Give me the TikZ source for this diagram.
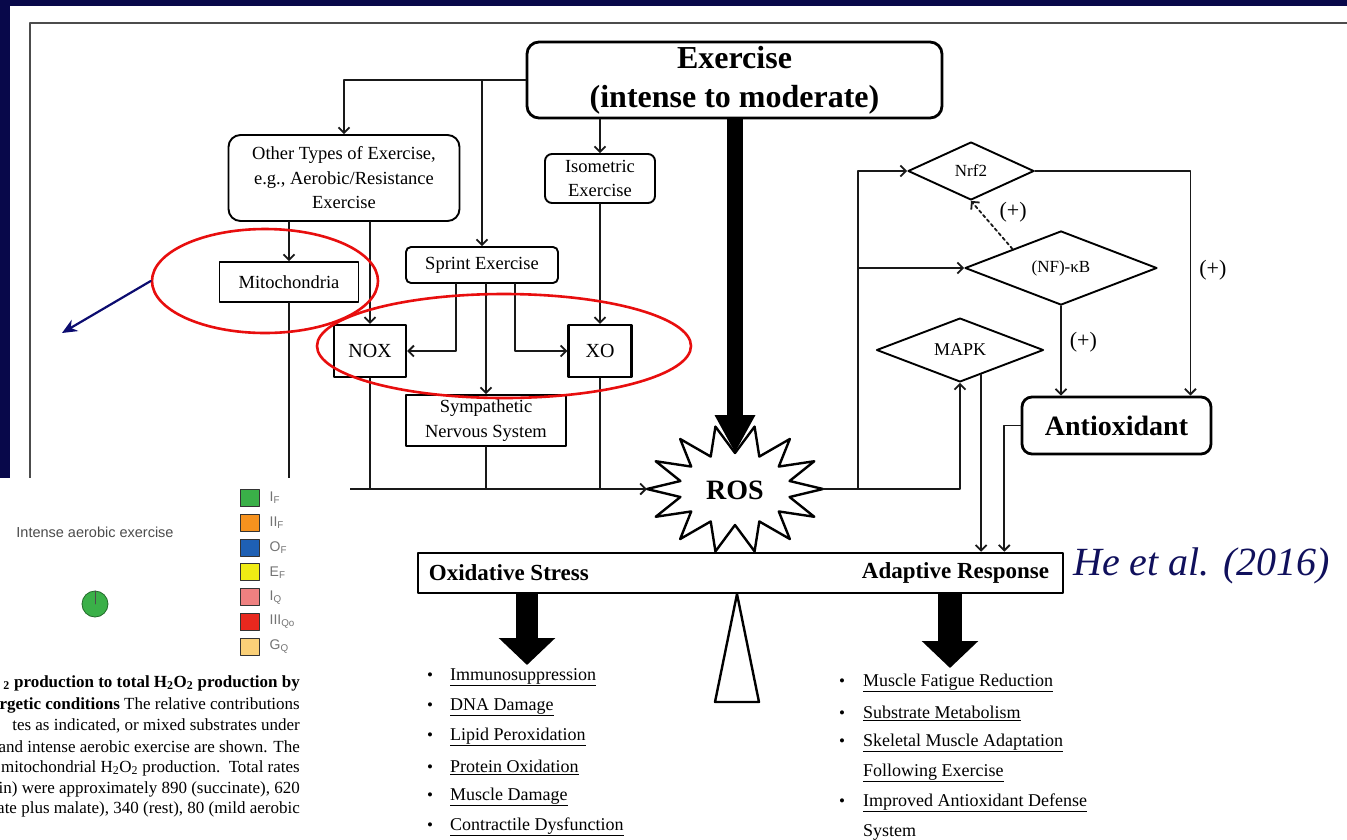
\documentclass[tikz,border=0pt]{standalone}
\usepackage{fontspec}
\setmainfont{Liberation Serif}
\newfontfamily\legendfont{Liberation Sans}
\usepackage{xcolor}
\usetikzlibrary{arrows.meta,shapes.geometric,calc}
\definecolor{slidenavy}{RGB}{8,8,74}
\definecolor{citeblue}{RGB}{16,16,92}
\definecolor{ringred}{RGB}{232,14,14}
\definecolor{arrownavy}{RGB}{12,12,112}
\definecolor{legI}{RGB}{58,176,72}
\definecolor{legII}{RGB}{246,146,30}
\definecolor{legO}{RGB}{30,96,180}
\definecolor{legE}{RGB}{240,236,20}
\definecolor{legIQ}{RGB}{238,128,128}
\definecolor{legIII}{RGB}{232,40,30}
\definecolor{legG}{RGB}{250,208,120}
\newcommand\flowfont{\fontsize{18.5}{24.5}\selectfont}
\newcommand\smallbullet{{\fontsize{17}{17}\selectfont\textbullet}}

\begin{document}
\begin{tikzpicture}[line cap=round,line join=round,>={Straight Barb[length=5.5pt,width=11pt]},x=1pt,y=-1pt,
  every node/.style={inner sep=0pt},
  conn/.style={line width=1.8pt,draw=black!90},
  box/.style={draw,line width=1.9pt,align=center,font=\flowfont},
  rbox/.style={box,rounded corners=7pt},
  dia/.style={draw,diamond,line width=1.9pt,font=\fontsize{17}{20}\selectfont},
  plus/.style={font=\fontsize{22}{22}\selectfont},
  bigarrow/.style={line width=#1,line cap=butt,-{Triangle[length=27pt,width=55pt]}},
  item/.style={anchor=west,font=\fontsize{18}{20}\selectfont},
  ring/.style={draw=ringred,ellipse,line width=2.6pt},
  caption/.style={anchor=east,font=\fontsize{17}{21}\selectfont}]
\useasboundingbox (0,0) rectangle (1347,839);
\fill[slidenavy] (0,0) rectangle (1347,839);
\fill[white] (10,6) rectangle (1347,839);
\draw[line width=1.3pt,black!70] (30,478) -- (30,23) -- (1347,23);

\node[rbox,line width=2.8pt,rounded corners=12pt,minimum width=415pt,minimum height=76pt,font=\bfseries\fontsize{32}{39}\selectfont] (exercise) at (734.5,80) {Exercise\\(intense to moderate)};
\node[rbox,rounded corners=12pt,minimum width=231pt,minimum height=86pt] (other) at (344,178) {Other Types of Exercise,\\e.g., Aerobic/Resistance\\Exercise};
\node[rbox,minimum width=110pt,minimum height=49pt] (iso) at (600,178.5) {Isometric\\Exercise};
\node[rbox,rounded corners=5pt,minimum width=152pt,minimum height=36pt] (sprint) at (482,265) {Sprint Exercise};
\node[box,minimum width=139pt,minimum height=40pt] (mito) at (289,282) {Mitochondria};
\node[box,line width=2.4pt,minimum width=72pt,minimum height=52pt,font=\fontsize{20}{24}\selectfont] (nox) at (370,351) {NOX};
\node[box,line width=2.4pt,minimum width=63pt,minimum height=52pt,font=\fontsize{20}{24}\selectfont] (xo) at (600,351) {XO};
\node[box,minimum width=160pt,minimum height=51pt] (symp) at (486,420.5) {Sympathetic\\Nervous System};

\node[dia,minimum width=126pt,minimum height=58pt] (nrf) at (971,171) {Nrf2};
\node[dia,minimum width=192pt,minimum height=70pt] (nfkb) at (1061,268) {(NF)-κB};
\node[dia,minimum width=167pt,minimum height=56pt,font=\fontsize{18}{20}\selectfont] (mapk) at (960,350) {MAPK};
\node[rbox,line width=2.8pt,rounded corners=10pt,minimum width=189pt,minimum height=57pt,font=\bfseries\fontsize{28}{30}\selectfont] (anti) at (1116.5,425.5) {Antioxidant};

% ROS burst
\coordinate (rosleft) at (647,489);
\coordinate (rosright) at (823,489);
\coordinate (rostip) at (735,453);
\draw[line width=2.4pt,fill=white] (rosright) \foreach \k in {1,...,27}{
  -- ({735+(88-32*isodd(\k))*cos(\k*360/28)},{489-(64-28*isodd(\k))*sin(\k*360/28)}) } -- cycle;
\node[font=\bfseries\fontsize{28}{30}\selectfont] (ros) at (735,490) {ROS};

\draw[conn,->] (exercise.west) -| (other.north);
\draw[conn,->] (exercise.west -| sprint.north) -- (sprint.north);
\draw[conn,->] (exercise.south -| iso.north) -- (iso.north);
\draw[conn,->] (other.south -| mito.north) -- (mito.north);
\draw[conn,->] (other.south -| nox.north) -- (nox.north);
\draw[conn,->] ([xshift=-26pt]sprint.south) |- (nox.east);
\draw[conn,->] ([xshift=33pt]sprint.south) |- (xo.west);
\draw[conn,->] (sprint.south -| symp.north) -- (symp.north);
\draw[conn,->] (iso.south -| xo.north) -- (xo.north);
\draw[conn] (mito.south) -- (mito.south |- rosleft);
\draw[conn] (nox.south) -- (nox.south |- rosleft);
\draw[conn] (symp.south) -- (symp.south |- rosleft);
\draw[conn] (xo.south) -- (xo.south |- rosleft);
\draw[conn,->] (mito.south |- rosleft) -- (rosleft);
\draw[bigarrow=16pt,-{Triangle[length=38pt,width=38pt]}] (exercise.south -| rostip) -- (rostip);

\coordinate (fork) at (858,489);
\draw[conn,->] (rosright) -| (mapk.south);
\draw[conn,->] (fork) |- (nrf.west);
\draw[conn,->] (fork |- nfkb.west) -- (nfkb.west);
\draw[conn,->,dashed] (nfkb.north west) -- (nrf.south) node[pos=0.5,above right=2pt,xshift=5pt,plus] (plusa) {(+)};
\draw[conn,->] (nrf.east) -| ([xshift=-22pt]anti.north east) node[pos=0.72,right=8pt,plus] (plusb) {(+)};
\draw[conn,->] (nfkb.south) -- (nfkb.south |- anti.north) node[pos=0.4,right=8pt,plus] (plusc) {(+)};

% balance
\node[draw,line width=2.6pt,minimum width=645pt,minimum height=40pt] (bar) at (740.5,573) {};
\node[anchor=west,font=\bfseries\fontsize{23}{25}\selectfont] (ostress) at ([xshift=12pt]bar.west) {Oxidative Stress};
\node[anchor=east,font=\bfseries\fontsize{23}{25}\selectfont] (aresp) at ([xshift=-15pt]bar.east) {Adaptive Response};
\coordinate (mapkout) at ($(mapk.south)!0.25!(mapk.east)$);
\draw[conn,->] (mapkout) -- (mapkout |- bar.north);
\draw[conn,->] (anti.west) -| ([xshift=-60pt]bar.north east);
\coordinate (pivot) at (737,594);
\draw[line width=2.4pt,fill=white] (pivot) -- (715,702) -- (759,702) -- cycle;
\coordinate (stresstip) at (527,665);
\coordinate (adapttip) at (950,668);
\draw[bigarrow=22pt] (bar.south -| stresstip) -- (stresstip);
\draw[bigarrow=24pt] (bar.south -| adapttip) -- (adapttip);

\foreach \t [count=\i] in {Immunosuppression,DNA Damage,Lipid Peroxidation,Protein Oxidation,Muscle Damage,Contractile Dysfunction}
  \node[item] (ox\i) at (427,{647+30*\i}) {\makebox[23pt][l]{\smallbullet}\underline{\t}};
\foreach \t/\b [count=\i] in {Muscle Fatigue Reduction/1,Substrate Metabolism/1,Skeletal Muscle Adaptation/1,Following Exercise/0,Improved Antioxidant Defense/1,System/0}
  \node[item] (ad\i) at (839,{653+30*\i}) {\makebox[24pt][l]{\ifnum\b=1 \smallbullet\fi}\underline{\t}};

\node[anchor=west,text=citeblue,font=\itshape\fontsize{40}{42}\selectfont] (cite) at (1073,566) {He et al. (2016)};

% highlights
\node[ring,minimum width=226pt,minimum height=104pt] (ring1) at (265,281) {};
\node[ring,minimum width=374pt,minimum height=104pt] (ring2) at (504,346) {};
\coordinate (pointer) at (62,333);
\draw[arrownavy,line width=2.2pt,-{Stealth[length=15pt,width=13pt]}] (ring1.west) -- (pointer);

% inset figure
\fill[white] (0,478) rectangle (350,839);
\begin{scope}
\clip (0,478) rectangle (350,839);
\node[text=black!70,font=\legendfont\fontsize{14.5}{16}\selectfont] (pietitle) at (95,532) {Intense aerobic exercise};
\draw[fill=legI,draw=legI!60!black,line width=0.8pt] (95,604) circle (13pt);
\draw[black!70,line width=0.8pt] (95,604) -- (95,591);
\foreach \c/\l [count=\i] in {legI/I\textsubscript{F},legII/II\textsubscript{F},legO/O\textsubscript{F},legE/E\textsubscript{F},legIQ/I\textsubscript{Q},legIII/III\textsubscript{Qo},legG/G\textsubscript{Q}}{
  \node[draw=black!80,line width=1pt,fill=\c,minimum width=19pt,minimum height=17pt] (key\i) at (249.5,{473.2+24.8*\i}) {};
  \node[anchor=west,text=black!55,font=\legendfont\fontsize{14}{16}\selectfont] (lab\i) at ([xshift=10pt]key\i.east) {\l};
}
\node[caption] (cap1) at (300,683) {\textbf{\textsubscript{2} production to total H\textsubscript{2}O\textsubscript{2} production by}};
\node[caption] (cap2) at (300,705) {\textbf{rgetic conditions} The relative contributions};
\node[caption] (cap3) at (300,726) {tes as indicated, or mixed substrates under};
\node[caption] (cap4) at (300,747) {and intense aerobic exercise are shown. The};
\node[caption] (cap5) at (300,768) {mitochondrial H\textsubscript{2}O\textsubscript{2} production.\ \ Total rates};
\node[caption] (cap6) at (300,789) {ein) were approximately 890 (succinate), 620};
\node[caption] (cap7) at (300,809) {ate plus malate), 340 (rest), 80 (mild aerobic};
\end{scope}
\end{tikzpicture}
\end{document}
